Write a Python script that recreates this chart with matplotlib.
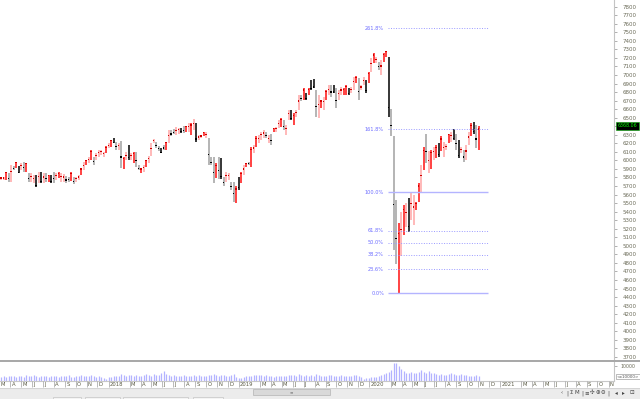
import matplotlib
matplotlib.use("Agg")
import matplotlib.pyplot as plt
from matplotlib.lines import Line2D
from matplotlib.patches import Rectangle
import numpy as np
import pandas as pd

# weekly bars, first bar = week of 2017-03-06, last bar = week of 2020-11-02
FIRST_WEEK = "2017-03-06"

HIGH = [
    5810, 5810, 5870, 5850, 5950, 5930, 5985, 5930, 5970, 5985,
    5975, 5850, 5850, 5830, 5830, 5870, 5860, 5850, 5850, 5830,
    5830, 5870, 5850, 5860, 5850, 5840, 5820, 5810, 5860, 5810,
    5810, 5830, 5910, 5985, 6005, 6045, 6120, 6045, 6085, 6120,
    6120, 6100, 6170, 6200, 6240, 6260, 6220, 6200, 6230, 6045,
    6100, 6180, 6085, 6100, 6100, 5945, 5905, 5945, 6005, 6050,
    6200, 6245, 6220, 6170, 6140, 6180, 6220, 6355, 6355, 6365,
    6395, 6385, 6385, 6405, 6405, 6435, 6435, 6480, 6435, 6300,
    6300, 6335, 6335, 6260, 6035, 6035, 5965, 6035, 6025, 5810,
    5870, 5855, 5750, 5750, 5695, 5810, 5870, 5945, 5965, 5985,
    6160, 6180, 6280, 6300, 6335, 6355, 6335, 6300, 6315, 6375,
    6395, 6475, 6495, 6475, 6415, 6590, 6590, 6550, 6590, 6765,
    6765, 6845, 6785, 6845, 6940, 6955, 6825, 6765, 6710, 6745,
    6825, 6885, 6885, 6885, 6845, 6825, 6865, 6845, 6885, 6845,
    6865, 6980, 6990, 6960, 6885, 6980, 6940, 7040, 7195, 7255,
    7215, 7155, 7175, 7255, 7285, 7215, 6600, 6280, 5535, 5270,
    5400, 5480, 5500, 5555, 5635, 5595, 5515, 5730, 5945, 6160,
    6315, 6105, 6120, 6160, 6180, 6200, 6280, 6220, 6190, 6315,
    6335, 6365, 6315, 6240, 6160, 6120, 6180, 6335, 6435, 6455,
    6415, 6405,
]
LOW = [
    5770, 5770, 5770, 5750, 5750, 5890, 5910, 5850, 5890, 5870,
    5870, 5750, 5750, 5730, 5690, 5730, 5730, 5740, 5750, 5750,
    5740, 5740, 5770, 5790, 5750, 5750, 5740, 5750, 5760, 5720,
    5750, 5770, 5830, 5890, 5950, 5970, 6005, 5950, 6005, 6045,
    6065, 6045, 6085, 6140, 6160, 6200, 6120, 6120, 5910, 5900,
    6005, 6005, 6005, 5965, 5925, 5890, 5850, 5870, 5925, 5975,
    6050, 6200, 6140, 6115, 6085, 6120, 6120, 6200, 6280, 6310,
    6300, 6315, 6325, 6325, 6335, 6335, 6300, 6355, 6220, 6240,
    6260, 6280, 6260, 5945, 5945, 5730, 5790, 5780, 5780, 5695,
    5750, 5770, 5655, 5515, 5500, 5655, 5730, 5830, 5925, 5945,
    5925, 6085, 6160, 6200, 6240, 6260, 6260, 6200, 6180, 6335,
    6335, 6375, 6395, 6355, 6300, 6475, 6475, 6415, 6510, 6590,
    6690, 6710, 6710, 6765, 6825, 6845, 6510, 6495, 6610, 6590,
    6710, 6765, 6745, 6785, 6610, 6710, 6765, 6765, 6765, 6765,
    6785, 6825, 6905, 6710, 6825, 6885, 6795, 6905, 7040, 7135,
    7135, 7060, 7000, 7155, 7215, 6510, 6280, 4950, 4785, 4445,
    4880, 5125, 5225, 5165, 5300, 5245, 5420, 5515, 5635, 5890,
    5965, 5850, 5905, 6005, 6025, 6045, 6105, 6045, 6120, 6200,
    6220, 6240, 6120, 6025, 6085, 5985, 6005, 6180, 6280, 6315,
    6140, 6120,
]
CLOSE = [
    5795, 5795, 5855, 5790, 5870, 5905, 5975, 5860, 5940, 5915,
    5960, 5790, 5810, 5790, 5710, 5815, 5750, 5805, 5790, 5820,
    5755, 5790, 5820, 5850, 5810, 5805, 5770, 5775, 5845, 5755,
    5785, 5805, 5900, 5945, 5995, 6015, 6105, 5990, 6055, 6090,
    6100, 6080, 6155, 6175, 6230, 6210, 6160, 6170, 6040, 6025,
    6060, 6030, 6055, 6080, 5995, 5910, 5900, 5915, 5995, 6020,
    6140, 6230, 6175, 6135, 6095, 6145, 6205, 6295, 6310, 6330,
    6355, 6360, 6335, 6355, 6395, 6395, 6415, 6430, 6250, 6275,
    6285, 6330, 6305, 6070, 5980, 5855, 5940, 5880, 5815, 5740,
    5820, 5825, 5695, 5610, 5665, 5680, 5850, 5900, 5960, 5960,
    6125, 6145, 6260, 6260, 6300, 6320, 6290, 6260, 6235, 6370,
    6370, 6435, 6480, 6400, 6370, 6545, 6490, 6530, 6560, 6695,
    6720, 6825, 6720, 6830, 6845, 6860, 6635, 6655, 6695, 6685,
    6810, 6835, 6800, 6800, 6705, 6780, 6825, 6830, 6865, 6780,
    6835, 6920, 6975, 6810, 6860, 6940, 6815, 7020, 7135, 7235,
    7185, 7100, 7105, 7240, 7275, 6620, 6405, 5480, 5085, 5145,
    5190, 5425, 5390, 5225, 5500, 5455, 5500, 5700, 5820, 6120,
    6105, 6000, 6090, 6100, 6155, 6065, 6250, 6150, 6165, 6300,
    6290, 6260, 6200, 6055, 6130, 6040, 6110, 6275, 6410, 6340,
    6250, 6368.06,
]
# volume, in units of 10000
VOLUME = [
    3000, 3300, 2800, 3400, 3100, 3600, 2900, 3200, 3500, 3000,
    4000, 3100, 3300, 3800, 3200, 3000, 3500, 3300, 3100, 2900,
    3400, 3600, 3200, 3000, 3300, 3500, 3100, 3700, 3000, 2800,
    3300, 3600, 3900, 3500, 3200, 3400, 3800, 3300, 3000, 3400,
    2800, 1900, 1500, 2400, 3000, 3200, 3100, 3600, 4500, 3900,
    3400, 3800, 4200, 3500, 4100, 3600, 3300, 4300, 4700, 3900,
    3500, 4800, 4100, 3700, 5200, 6400, 4600, 4000, 3600, 3800,
    3400, 3500, 3200, 3900, 3600, 3300, 3500, 4000, 3300, 4100,
    3500, 3200, 3400, 4300, 3900, 4600, 3800, 3500, 3700, 4200,
    3600, 3400, 3800, 4400, 3000, 1800, 2100, 2800, 3300, 3500,
    3600, 3900, 4000, 4100, 3800, 3500, 3700, 3400, 3200, 3000,
    3300, 3600, 3400, 3100, 3500, 3800, 4200, 3700, 3300, 4600,
    4100, 3600, 3800, 3400, 3900, 3500, 4500, 3800, 3600, 3400,
    3300, 3700, 4200, 3600, 3400, 3200, 3800, 3500, 3300, 3100,
    3400, 3700, 3900, 3600, 2600, 1600, 1900, 2300, 2600, 2400,
    3000, 3400, 4200, 4600, 5400, 6300, 7600, 12000, 12300, 9800,
    8000, 6400, 5300, 5600, 5800, 5200, 5500, 5900, 7400, 6300,
    5600, 7000, 5500, 5200, 4600, 4200, 4400, 4000, 4300, 4600,
    5100, 4800, 4300, 3700, 4500, 4000, 3800, 3500, 3600, 3300,
    3900, 3500,
]
assert len(HIGH) == len(LOW) == len(CLOSE) == len(VOLUME)

FIB_LOW = 4444
FIB_HIGH = 5630
FIB_LEVELS = [0.0, 0.236, 0.382, 0.5, 0.618, 1.0, 1.618, 2.618]
FIB_START, FIB_END = 154.8, 194.8   # in weeks
PRICE_TICKS = list(range(3700, 7900, 100))
LAST_PRICE = CLOSE[-1]

W, H = 640, 399


def px_rect(x0, y0, x1, y1):
    # pixel box (top-left origin) -> figure fraction rect
    return [x0 / W, 1 - y1 / H, (x1 - x0) / W, (y1 - y0) / H]


fig = plt.figure(figsize=(6.4, 3.99), dpi=100)
fig.patch.set_facecolor("white")

weeks = np.arange(len(CLOSE))
hi, lo, cl = np.array(HIGH), np.array(LOW), np.array(CLOSE)
xlim = (-0.4, 245.2)

# ---- price panel
ax = fig.add_axes(px_rect(0, 0, 614, 359))
ax.set_xlim(*xlim)
ax.set_ylim(3675, 7878)

# bar colour from where the close sits inside the week's range
loc = (cl - lo) / (hi - lo)
bar_col = np.where(loc >= 0.75, "#ff1010",
          np.where(loc >= 0.5, "#ffa6a6",
          np.where(loc >= 0.25, "#a0a0a0", "#000000")))
dot_col = np.where(loc >= 0.5, "#d00000", "#000000")
ax.vlines(weeks, lo, hi, colors=bar_col, lw=1.1)
ax.scatter(weeks, cl, s=0.7, c=dot_col, marker="s", linewidths=0, zorder=3)

rng = FIB_HIGH - FIB_LOW
for lev in FIB_LEVELS:
    p = FIB_LOW + lev * rng
    if lev in (0.0, 1.0):
        ax.hlines(p, FIB_START, FIB_END, colors="#b4b4ff", lw=1.0)
    else:
        ax.hlines(p, FIB_START, FIB_END, colors="#9a9aff", lw=0.7,
                  linestyles=(0, (1, 1.6)))
    ax.text(FIB_START - 1.6, p, f"{lev * 100:.1f}%", ha="right", va="center",
            fontsize=3.6, color="#6c6cff")

# the last-price box hides the tick label next to it
ax.yaxis.tick_right()
ax.set_yticks(PRICE_TICKS)
ax.set_yticklabels(["" if abs(t - LAST_PRICE) < 50 else str(t) for t in PRICE_TICKS])
ax.tick_params(axis="y", labelsize=4.0, labelcolor="#6b6b58", length=2,
               width=0.5, color="#909090", pad=4)
ax.set_xticks([])
for s in ("top", "left", "bottom"):
    ax.spines[s].set_visible(False)
ax.spines["right"].set_color("#c4c4c4")
ax.spines["right"].set_linewidth(0.8)

ax.text(1.006, LAST_PRICE + 35, f"{LAST_PRICE:.2f}", transform=ax.get_yaxis_transform(),
        ha="left", va="center", fontsize=3.4, color="#00ff00",
        bbox=dict(boxstyle="square,pad=0.3", facecolor="black", edgecolor="#00aa00",
                  linewidth=0.4))

# ---- volume panel
axv = fig.add_axes(px_rect(0, 362, 614, 381))
axv.set_xlim(*xlim)
axv.set_ylim(0, 12700)
axv.vlines(weeks, 0, VOLUME, colors="#b3b3ff", lw=0.9)
axv.yaxis.tick_right()
axv.set_yticks([10000])
axv.set_yticklabels(["10000"])
axv.tick_params(axis="y", labelsize=3.4, labelcolor="#6b6b58", length=2,
                width=0.5, color="#909090", pad=3)
axv.set_xticks([])
for s in ("top", "left"):
    axv.spines[s].set_visible(False)
axv.spines["bottom"].set_color("#c8c8c8")
axv.spines["right"].set_color("#c4c4c4")
axv.text(1.004, 0.22, "<x10000>", transform=axv.transAxes, ha="left", va="center",
         fontsize=3.0, color="#555555",
         bbox=dict(boxstyle="square,pad=0.15", facecolor="white", edgecolor="#888888",
                   linewidth=0.4))

# separator between price and volume
fig.add_artist(Line2D([0, 1], [1 - 361 / H] * 2, color="#8f8f8f", lw=1.1))

# ---- date strip
axd = fig.add_axes(px_rect(0, 381, 614, 388))
axd.set_xlim(*xlim)
axd.set_ylim(0, 1)
axd.axis("off")
months = pd.date_range("2017-03-01", "2021-11-01", freq="MS")
start = pd.Timestamp(FIRST_WEEK)
for m in months:
    if m.month == 2:
        continue
    pos = (m - start).days / 7
    label = str(m.year) if m.month == 1 else "JFMAMJJASOND"[m.month - 1]
    axd.vlines(pos, 0.1, 0.95, colors="#a0a0a0", lw=0.5)
    axd.text(pos + 0.5, 0.5, label, ha="left", va="center", fontsize=3.8,
             color="#5a5a44", clip_on=False)

# ---- scrollbar / toolbar strip
axs = fig.add_axes(px_rect(0, 388, 640, 399))
axs.set_xlim(0, W)
axs.set_ylim(11, 0)
axs.set_facecolor("#ececec")
axs.set_xticks([])
axs.set_yticks([])
for s in axs.spines.values():
    s.set_visible(False)
axs.axhline(0.3, color="#d4d4d4", lw=0.8)
axs.add_patch(Rectangle((253, 1), 77, 6, facecolor="#d9d9d9", edgecolor="#b4b4b4", lw=0.5))
axs.text(291.5, 4, "≡", ha="center", va="center", fontsize=3, color="#888888")
for x0, x1 in [(53, 81), (85, 120), (123, 188), (193, 223)]:
    axs.add_patch(Rectangle((x0, 9), x1 - x0, 4, facecolor="#f4f4f4",
                            edgecolor="#c4c4c4", lw=0.5))
icons = [(562, "‹"), (567, "|"), (571, "Σ"), (577, "M"), (582, "|"), (587, "≡"),
         (592, "✣"), (598, "⊕"), (603, "⊖"), (608, "|"), (616, "◂"), (623, "▸"),
         (632, "⊡")]
for x, g in icons:
    axs.text(x, 5, g, ha="center", va="center", fontsize=4, color="#444444")

fig.savefig("out.png", dpi=100, facecolor="white")
